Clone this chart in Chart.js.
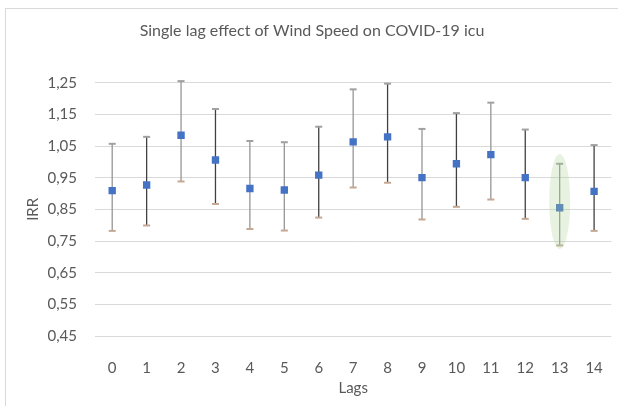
<!DOCTYPE html>
<html>
<head>
<meta charset="utf-8">
<script src="https://cdn.jsdelivr.net/npm/chart.js@4.4.1/dist/chart.umd.min.js"></script>
<style>
  html, body { margin: 0; padding: 0; background: #fff; }
  #wrap { width: 618px; height: 406px; }
</style>
</head>
<body>
<div id="wrap"><canvas id="irrChart" width="618" height="406"></canvas></div>
<script>
const lags = ["0", "1", "2", "3", "4", "5", "6", "7", "8", "9", "10", "11", "12", "13", "14"];
const irr = [0.909, 0.927, 1.084, 1.006, 0.916, 0.911, 0.958, 1.063, 1.079, 0.950, 0.994, 1.023, 0.950, 0.855, 0.907];
const lower = [0.782, 0.799, 0.938, 0.867, 0.788, 0.783, 0.824, 0.919, 0.934, 0.818, 0.858, 0.881, 0.820, 0.736, 0.782];
const upper = [1.057, 1.079, 1.255, 1.167, 1.066, 1.062, 1.111, 1.229, 1.247, 1.104, 1.154, 1.187, 1.102, 0.994, 1.053];
const yTicks = [0.45, 0.55, 0.65, 0.75, 0.85, 0.95, 1.05, 1.15, 1.25];
const highlightLag = 13;
const highlightRange = [0.724, 1.025];

// line colours of the error bars (some are darker in the original)
const barLine = ["#969696", "#404040", "#969696", "#404040", "#969696", "#969696", "#404040", "#969696",
                 "#404040", "#969696", "#404040", "#969696", "#404040", "#969696", "#404040"];

const textColor = "#595959";
Chart.defaults.font.family = "Lato, 'Open Sans', sans-serif";
Chart.defaults.color = textColor;

const frame = {
  id: "frame",
  beforeDraw(chart) {
    const ctx = chart.ctx;
    ctx.save();
    ctx.strokeStyle = "#d9d9d9";
    ctx.lineWidth = 1;
    ctx.strokeRect(5.5, 8.5, 800, 600);
    ctx.restore();
  }
};

const errorBars = {
  id: "errorBars",
  beforeDatasetsDraw(chart) {
    const ctx = chart.ctx;
    const x = chart.scales.x;
    const y = chart.scales.y;
    ctx.save();
    lags.forEach((lag, i) => {
      const px = x.getPixelForValue(i);
      const top = y.getPixelForValue(upper[i]);
      const bot = y.getPixelForValue(lower[i]);
      ctx.strokeStyle = barLine[i];
      ctx.lineWidth = 1.3;
      ctx.beginPath();
      ctx.moveTo(px, top);
      ctx.lineTo(px, bot);
      ctx.stroke();
      ctx.lineWidth = 2;
      ctx.strokeStyle = "#a0a0a0";
      ctx.beginPath();
      ctx.moveTo(px - 3.5, top);
      ctx.lineTo(px + 3.5, top);
      ctx.stroke();
      ctx.strokeStyle = "#c4a894";
      ctx.beginPath();
      ctx.moveTo(px - 3.5, bot);
      ctx.lineTo(px + 3.5, bot);
      ctx.stroke();
    });
    ctx.restore();
  }
};

const highlight = {
  id: "highlight",
  afterDatasetsDraw(chart) {
    const ctx = chart.ctx;
    const px = chart.scales.x.getPixelForValue(highlightLag);
    const yTop = chart.scales.y.getPixelForValue(highlightRange[1]);
    const yBot = chart.scales.y.getPixelForValue(highlightRange[0]);
    ctx.save();
    ctx.fillStyle = "rgba(169,208,142,0.28)";
    ctx.beginPath();
    ctx.ellipse(px, (yTop + yBot) / 2, 10.5, (yBot - yTop) / 2, 0, 0, Math.PI * 2);
    ctx.fill();
    ctx.restore();
  }
};

new Chart(document.getElementById("irrChart"), {
  type: "line",
  data: {
    labels: lags,
    datasets: [{
      data: irr,
      showLine: false,
      pointStyle: "rect",
      pointRadius: 5.2,
      pointBorderWidth: 0,
      pointBackgroundColor: "#4472c4",
      pointBorderColor: "#4472c4"
    }]
  },
  options: {
    responsive: false,
    animation: false,
    devicePixelRatio: 1,
    layout: { padding: { left: 12, right: 6, top: 0, bottom: 0 } },
    plugins: {
      legend: { display: false },
      tooltip: { enabled: false },
      title: {
        display: true,
        text: "Single lag effect of Wind Speed on COVID-19 icu",
        color: textColor,
        font: { size: 16, weight: "normal" },
        padding: { top: 21.5, bottom: 42 }
      }
    },
    scales: {
      x: {
        offset: true,
        grid: { display: false },
        border: { display: false },
        ticks: { padding: 15, font: { size: 15 }, color: textColor },
        title: { display: true, text: "Lags", font: { size: 15 }, color: textColor, padding: { top: 0, bottom: 9 } },
        afterFit(scale) { scale.height = 70; }
      },
      y: {
        min: 0.45,
        max: 1.25,
        grid: { color: "#d9d9d9", lineWidth: 1, drawTicks: false },
        border: { display: false },
        afterBuildTicks(scale) { scale.ticks = yTicks.map(v => ({ value: v })); },
        ticks: {
          padding: 18,
          font: { size: 15 },
          color: textColor,
          callback: v => Number(v).toFixed(2).replace(".", ",")
        },
        title: { display: true, text: "IRR", font: { size: 15 }, color: textColor, padding: { top: 12, bottom: 0 } },
        afterFit(scale) { scale.width = 83; }
      }
    }
  },
  plugins: [frame, errorBars, highlight]
});
</script>
</body>
</html>
